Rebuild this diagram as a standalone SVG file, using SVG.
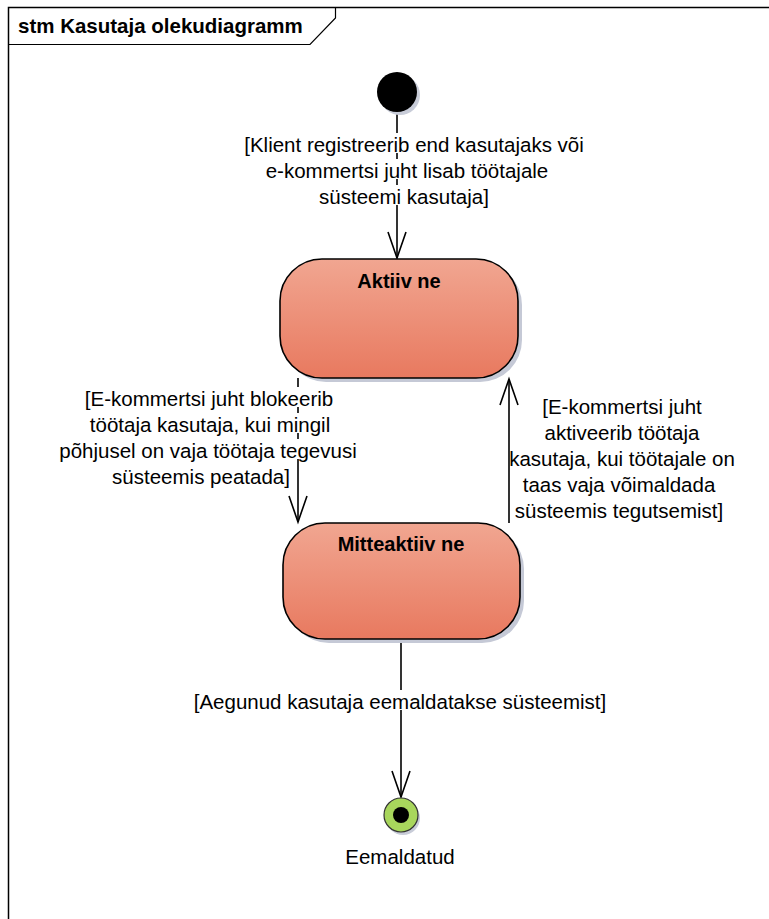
<svg xmlns="http://www.w3.org/2000/svg" width="769" height="919" viewBox="0 0 769 919">
  <style>
    .lbl { font-family: "Liberation Sans", Arial, sans-serif; font-size: 20.5px; fill: #000; text-anchor: middle; }
    .ttl { font-family: "Liberation Sans", Arial, sans-serif; font-size: 20px; font-weight: bold; fill: #000; text-anchor: middle; }
    .edge { stroke: #000; stroke-width: 1.6; fill: none; }
    .gap { fill: #fff; }
    .state { fill: url(#stateFill); stroke: #000; stroke-width: 1.6; }
    .shadow { fill: #c5c9d6; }
  </style>
  <defs>
    <linearGradient id="stateFill" x1="0" y1="0" x2="0" y2="1">
      <stop offset="0" stop-color="#f1a691"/>
      <stop offset="1" stop-color="#e8795f"/>
    </linearGradient>
  </defs>

  <rect width="769" height="919" fill="#fff"/>

  <!-- diagram frame with title tab -->
  <g id="frame">
    <path d="M 8.5 919 L 8.5 7.5 L 769 7.5" fill="none" stroke="#000" stroke-width="1.5"/>
    <path d="M 8.5 44.5 L 310 44.5 L 335.5 18 L 335.5 7.5" fill="none" stroke="#000" stroke-width="1.2"/>
    <text x="18" y="33" font-family="'Liberation Sans', Arial, sans-serif" font-size="20.5" font-weight="bold">stm Kasutaja olekudiagramm</text>
  </g>

  <!-- transitions -->
  <g id="connectors">
    <line class="edge" x1="397" y1="112" x2="397" y2="258"/>
    <path d="M 388 232 L 397 258 L 406 232" class="edge"/>
    <line class="edge" x1="298" y1="378" x2="298" y2="522"/>
    <path d="M 289 496 L 298 522 L 307 496" class="edge"/>
    <line class="edge" x1="509" y1="523" x2="509" y2="379"/>
    <path d="M 500 405 L 509 379 L 518 405" class="edge"/>
    <line class="edge" x1="401" y1="639" x2="401" y2="797"/>
    <path d="M 392 771 L 401 797 L 410 771" class="edge"/>
  </g>

  <!-- transition guards; each text row masks the connector behind it -->
  <g id="guards">
    <rect class="gap" x="393" y="133" width="8" height="20"/>
    <rect class="gap" x="393" y="159" width="8" height="20"/>
    <rect class="gap" x="393" y="185" width="8" height="20"/>
    <text class="lbl" x="414" y="152">[Klient registreerib end kasutajaks või</text>
    <text class="lbl" x="407" y="178">e-kommertsi juht lisab töötajale</text>
    <text class="lbl" x="404" y="204">süsteemi kasutaja]</text>

    <rect class="gap" x="294" y="387" width="8" height="20"/>
    <rect class="gap" x="294" y="413" width="8" height="20"/>
    <rect class="gap" x="294" y="439" width="8" height="20"/>
    <text class="lbl" x="209" y="406">[E-kommertsi juht blokeerib</text>
    <text class="lbl" x="210" y="432">töötaja kasutaja, kui mingil</text>
    <text class="lbl" x="208" y="458">põhjusel on vaja töötaja tegevusi</text>
    <text class="lbl" x="201" y="484">süsteemis peatada]</text>

    <text class="lbl" x="622" y="414">[E-kommertsi juht</text>
    <text class="lbl" x="622" y="440">aktiveerib töötaja</text>
    <text class="lbl" x="622" y="466">kasutaja, kui töötajale on</text>
    <text class="lbl" x="619" y="492">taas vaja võimaldada</text>
    <text class="lbl" x="619" y="518">süsteemis tegutsemist]</text>

    <rect class="gap" x="397" y="690" width="8" height="20"/>
    <text class="lbl" x="400" y="709">[Aegunud kasutaja eemaldatakse süsteemist]</text>
  </g>

  <!-- initial pseudostate -->
  <g id="initial">
    <circle cx="400" cy="95" r="20" fill="#c8ccd8"/>
    <circle cx="397" cy="92" r="20" fill="#000"/>
  </g>

  <!-- state: Aktiivne -->
  <g id="aktiivne">
    <rect class="shadow" x="284" y="263" width="238" height="119" rx="42"/>
    <rect class="state" x="280" y="259" width="238" height="119" rx="42"/>
    <text class="ttl" x="399" y="288">Aktiiv ne</text>
  </g>

  <!-- state: Mitteaktiivne -->
  <g id="mitteaktiivne">
    <rect class="shadow" x="287" y="527" width="237" height="116" rx="42"/>
    <rect class="state" x="283" y="523" width="237" height="116" rx="42"/>
    <text class="ttl" x="401" y="551">Mitteaktiiv ne</text>
  </g>

  <!-- final state -->
  <g id="final">
    <circle cx="403" cy="818" r="17" fill="#c8ccd8"/>
    <circle cx="401" cy="815" r="17" fill="#a8d65c" stroke="#333" stroke-width="1.2"/>
    <circle cx="401" cy="815" r="8" fill="#000"/>
    <text class="lbl" x="400" y="864">Eemaldatud</text>
  </g>
</svg>
